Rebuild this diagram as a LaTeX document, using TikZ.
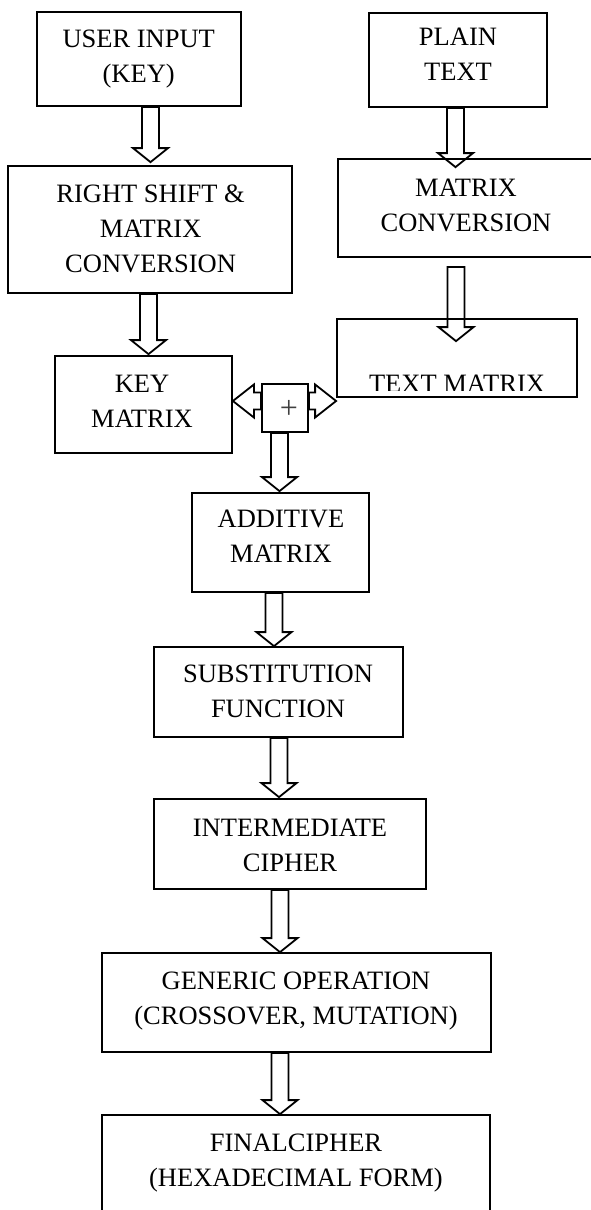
\documentclass[tikz,border=0pt]{standalone}
\usepackage{fontspec}
\setmainfont{Liberation Serif}
\usetikzlibrary{calc}
\tikzset{
  box/.style={draw, line width=1.8pt, rectangle, inner sep=0pt},
  lbl/.style={inner sep=0pt, align=center, font=\fontsize{26.5}{35}\selectfont,
    execute at begin node=\strut, execute at end node=\strut},
  blk/.style={draw, line width=1.8pt, line join=miter},
}
% vertical block arrow: x centre, source anchor, start offset (down), target anchor, tip offset (down)
\newcommand\varrow[5]{%
  \draw[blk] let \p1=#2, \p2=#4 in
   ({(#1-8.5)*1pt},{\y1-(#3)*1pt}) -- ({(#1-8.5)*1pt},{\y2-(#5)*1pt+14pt})
   -- ({(#1-17.5)*1pt},{\y2-(#5)*1pt+14pt}) -- ({(#1)*1pt},{\y2-(#5)*1pt})
   -- ({(#1+17.5)*1pt},{\y2-(#5)*1pt+14pt}) -- ({(#1+8.5)*1pt},{\y2-(#5)*1pt+14pt})
   -- ({(#1+8.5)*1pt},{\y1-(#3)*1pt}) -- cycle;}
% horizontal block arrow: source anchor, target anchor, y (px), signed head length
\newcommand\harrow[4]{%
  \draw[blk] let \p1=#1, \p2=#2 in
   ({\x1},{-(#3)*1pt-8.5pt}) -- ({\x2+(#4)*1pt},{-(#3)*1pt-8.5pt})
   -- ({\x2+(#4)*1pt},{-(#3)*1pt-16.5pt}) -- ({\x2},{-(#3)*1pt})
   -- ({\x2+(#4)*1pt},{-(#3)*1pt+16.5pt}) -- ({\x2+(#4)*1pt},{-(#3)*1pt+8.5pt})
   -- ({\x1},{-(#3)*1pt+8.5pt}) -- cycle;}
\begin{document}
\begin{tikzpicture}[x=1pt,y=-1pt]
\useasboundingbox (0,0) rectangle (591,1210);

% boxes
\node[box, minimum width=204pt, minimum height=94pt] (user) at (139,59) {};
\node[box, minimum width=178pt, minimum height=94pt] (plain) at (458,60) {};
\node[box, minimum width=284pt, minimum height=127pt] (rs) at (150,229.5) {};
\node[box, minimum width=258pt, minimum height=98pt] (mc) at (467,208) {};
\node[box, minimum width=240pt, minimum height=78pt] (tm) at (457,358) {};
\node[box, minimum width=177pt, minimum height=97pt] (key) at (143.5,404.5) {};
\node[box, minimum width=46pt, minimum height=48pt] (plus) at (285,408) {};
\node[box, minimum width=177pt, minimum height=99pt] (add) at (280.5,542.5) {};
\node[box, minimum width=249pt, minimum height=90pt] (sub) at (278.5,692) {};
\node[box, minimum width=272pt, minimum height=90pt] (inter) at (290,844) {};
\node[box, minimum width=389pt, minimum height=99pt] (gen) at (296.5,1002.5) {};
\node[box, minimum width=388pt, minimum height=120pt] (final) at (296,1175) {};

% texts
\node[lbl] (userT) at (138.7,61) {USER INPUT\\(KEY)};
\node[lbl] (plainT) at (458,60) {PLAIN\\TEXT};
\node[lbl] (rsT) at (150.6,233.5) {RIGHT SHIFT \&\\MATRIX\\CONVERSION};
\node[lbl] (mcT) at (466,210) {MATRIX\\CONVERSION};
\begin{scope}
  \clip (337,319) rectangle (577,390.5);
  \node[lbl] (tmT) at (457,385) {TEXT MATRIX};
\end{scope}
\node[lbl] (keyT) at (142,407) {KEY\\MATRIX};
\node[inner sep=0pt, font=\fontsize{32}{38}\selectfont, text=black!75] (plusT) at (289,409) {+};
\node[lbl] (addT) at (281,541.5) {ADDITIVE\\MATRIX};
\node[lbl] (subT) at (278,696) {SUBSTITUTION\\FUNCTION};
\node[lbl] (interT) at (290,850) {INTERMEDIATE\\CIPHER};
\node[lbl] (genT) at (296,1003) {GENERIC OPERATION\\(CROSSOVER, MUTATION)};
\node[lbl] (finalT) at (296,1165.5) {FINALCIPHER\\(HEXADECIMAL FORM)};

% block arrows
\varrow{150.5}{(user.south)}{0}{(rs.north)}{-3}
\varrow{455.5}{(plain.south)}{0}{(mc.north)}{9}
\varrow{148.5}{(rs.south)}{0}{(key.north)}{-1}
\varrow{456}{(mc.south)}{9}{(tm.north)}{23}
\harrow{(plus.west)}{(key.east)}{401}{21}
\harrow{(plus.east)}{(tm.west)}{401}{-21}
\varrow{279.5}{(plus.south)}{0}{(add.north)}{-1}
\varrow{274}{(add.south)}{0}{(sub.north)}{0}
\varrow{279}{(sub.south)}{0}{(inter.north)}{-1}
\varrow{280}{(inter.south)}{0}{(gen.north)}{0}
\varrow{280}{(gen.south)}{0}{(final.north)}{0}
\end{tikzpicture}
\end{document}
